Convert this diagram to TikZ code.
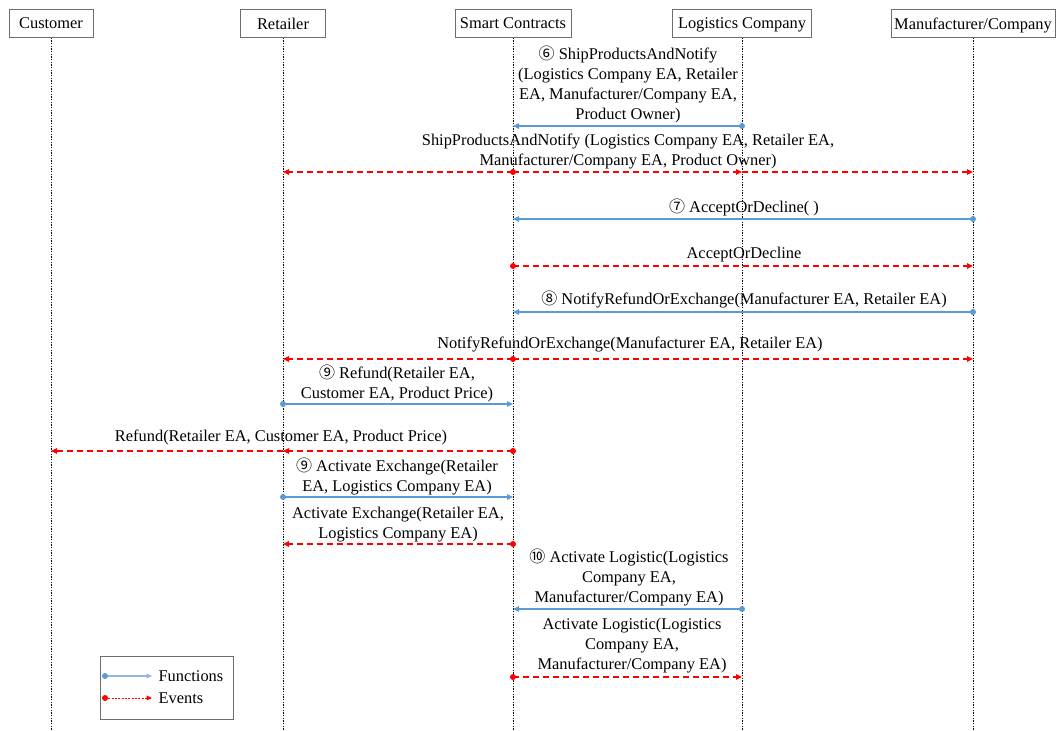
\documentclass[tikz,border=0pt]{standalone}
\usepackage{fontspec}
\setmainfont{Liberation Serif}
\newfontfamily\circfont{Noto Sans CJK SC}
\usetikzlibrary{arrows.meta}
\definecolor{fnblue}{RGB}{91,155,213}
\definecolor{evred}{RGB}{255,0,0}
\definecolor{boxgray}{RGB}{110,110,110}
\newcommand{\cnum}[1]{{\circfont\fontsize{12}{13}\selectfont #1}}
\begin{document}
\begin{tikzpicture}[x=0.75pt,y=-0.75pt,
  font=\fontsize{12.3}{15}\selectfont,
  actor/.style={draw=boxgray, line width=0.6pt, minimum height=21pt, inner sep=0pt, anchor=north, text depth=0pt, yshift=0pt},
  lifeline/.style={black, line width=0.6pt, dash pattern=on 1pt off 1pt},
  fn/.style={fnblue, line width=1.1pt, -{Triangle[length=4.5pt,width=4pt]}},
  ev/.style={evred, line width=1.1pt, dash pattern=on 4.5pt off 3pt, -{Triangle[length=4.5pt,width=4pt]}},
  fdot/.style={circle, fill=fnblue, inner sep=0pt, minimum size=4.5pt},
  edot/.style={circle, fill=evred, inner sep=0pt, minimum size=4.5pt},
  lbl/.style={align=center, anchor=south, inner sep=1pt},
  legbox/.style={draw=boxgray, line width=0.6pt, inner sep=0pt}]
\useasboundingbox (0,0) rectangle (1057,731);

% actors
\node[actor, minimum width=63pt] (cust) at (51,9) {Customer};
\node[actor, minimum width=64pt] (ret) at (283,9) {Retailer};
\node[actor, minimum width=87pt] (sc) at (513,9) {Smart Contracts};
\node[actor, minimum width=104pt] (log) at (742,9) {Logistics Company};
\node[actor, minimum width=123pt] (man) at (973,9) {Manufacturer/Company};

% lifelines
\foreach \a in {cust,ret,sc,log,man}
  \draw[lifeline] (\a.south) -- (\a.south |- 0,731);

% 1
\draw[fn] (log |- 0,126) node[fdot]{} -- (sc |- 0,126);
\node[lbl] (l1) at (628,125) {\cnum{⑥} ShipProductsAndNotify\\(Logistics Company EA, Retailer\\EA, Manufacturer/Company EA,\\Product Owner)};
% 2
\draw[ev] (sc |- 0,172) node[edot]{} -- (ret |- 0,172);
\draw[ev] (sc |- 0,172) -- (log |- 0,172);
\draw[ev] (log |- 0,172) -- (man |- 0,172);
\node[lbl] (l2) at (628,171) {ShipProductsAndNotify (Logistics Company EA, Retailer EA,\\Manufacturer/Company EA, Product Owner)};
% 3
\draw[fn] (man |- 0,219) node[fdot]{} -- (sc |- 0,219);
\node[lbl] (l3) at (744,218) {\cnum{⑦} AcceptOrDecline( )};
% 4
\draw[ev] (sc |- 0,266) node[edot]{} -- (man |- 0,266);
\node[lbl] (l4) at (744,264) {AcceptOrDecline};
% 5
\draw[fn] (man |- 0,312) node[fdot]{} -- (sc |- 0,312);
\node[lbl] (l5) at (744,310) {\cnum{⑧} NotifyRefundOrExchange(Manufacturer EA, Retailer EA)};
% 6
\draw[ev] (sc |- 0,359) node[edot]{} -- (ret |- 0,359);
\draw[ev] (sc |- 0,359) -- (man |- 0,359);
\node[lbl] (l6) at (630,354) {NotifyRefundOrExchange(Manufacturer EA, Retailer EA)};
% 7
\draw[fn] (ret |- 0,404) node[fdot]{} -- (sc |- 0,404);
\node[lbl] (l7) at (397,404) {\cnum{⑨} Refund(Retailer EA,\\Customer EA, Product Price)};
% 8
\draw[ev] (sc |- 0,451) node[edot]{} -- (ret |- 0,451);
\draw[ev] (ret |- 0,451) -- (cust |- 0,451);
\node[lbl] (l8) at (281,447) {Refund(Retailer EA, Customer EA, Product Price)};
% 9
\draw[fn] (ret |- 0,497) node[fdot]{} -- (sc |- 0,497);
\node[lbl] (l9) at (397,497) {\cnum{⑨} Activate Exchange(Retailer\\EA, Logistics Company EA)};
% 10
\draw[ev] (sc |- 0,544) node[edot]{} -- (ret |- 0,544);
\node[lbl] (l10) at (398,544) {Activate Exchange(Retailer EA,\\Logistics Company EA)};
% 11
\draw[fn] (log |- 0,609) node[fdot]{} -- (sc |- 0,609);
\node[lbl] (l11) at (629,608) {\cnum{⑩} Activate Logistic(Logistics\\Company EA,\\Manufacturer/Company EA)};
% 12
\draw[ev] (sc |- 0,677) node[edot]{} -- (log |- 0,677);
\node[lbl] (l12) at (632,675) {Activate Logistic(Logistics\\Company EA,\\Manufacturer/Company EA)};

% legend
\node[legbox, minimum width=99.75pt, minimum height=47.25pt] (leg) at (166.5,687.5) {};
\coordinate (fa) at (105,676);
\coordinate (fb) at (152,676);
\coordinate (ea) at (105,698);
\coordinate (eb) at (152,698);
\draw[fnblue!70, line width=0.8pt, -{Triangle[length=4pt,width=3.5pt]}] (fa) node[fdot]{} -- (fb);
\draw[evred, line width=0.7pt, dash pattern=on 1.5pt off 1pt, -{Triangle[length=4pt,width=3.5pt]}] (ea) node[edot]{} -- (eb);
\node[anchor=west, inner sep=1pt] (lf) at (157,676) {Functions};
\node[anchor=west, inner sep=1pt] (le) at (157,698) {Events};
\end{tikzpicture}
\end{document}
